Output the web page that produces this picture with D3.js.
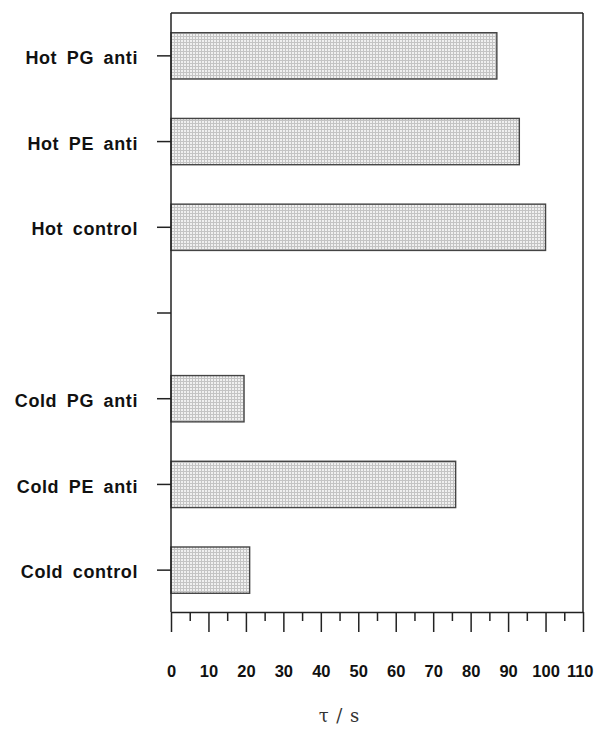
<!DOCTYPE html>
<html>
<head>
<meta charset="utf-8">
<script src="https://cdn.jsdelivr.net/npm/d3@7"></script>
<style>
  html, body { margin: 0; padding: 0; background: #fff; }
  svg { display: block; }
</style>
</head>
<body>
<svg id="chart" width="594" height="729"></svg>
<script>
// ---- data ----
const categories = ["Hot PG anti", "Hot PE anti", "Hot control", "", "Cold PG anti", "Cold PE anti", "Cold control"];
const tauValues  = [87, 93, 100, null, 19.5, 76, 21];
const majorTicks = [0, 10, 20, 30, 40, 50, 60, 70, 80, 90, 100, 110];
const minorTicks = [5, 15, 25, 35, 45, 55, 65, 75, 85, 95, 105];
const axisTitle  = "τ / s";

const rows = categories.map((c, i) => ({ cat: c, val: tauValues[i] }));

// ---- layout ----
const svg = d3.select("#chart");
const mLeft = 171, mRight = 583, mTop = 13, mBottom = 612;

const x = d3.scaleLinear().domain([0, 110]).range([mLeft, mRight]);
const y = d3.scaleBand().domain(categories).range([mTop, mBottom + 1])
  .paddingInner(0.46).paddingOuter(0.23);

// stipple pattern for bars
const defs = svg.append("defs");
const pat = defs.append("pattern").attr("id", "stip")
  .attr("width", 3).attr("height", 3).attr("patternUnits", "userSpaceOnUse");
pat.append("rect").attr("width", 3).attr("height", 3).attr("fill", "#f0f0f0");
pat.append("rect").attr("width", 3).attr("height", 1).attr("fill", "#c4c4c4");
pat.append("rect").attr("width", 1).attr("height", 3).attr("fill", "#c4c4c4");

// bars
svg.append("g").selectAll("rect")
  .data(rows.filter(d => d.val != null))
  .join("rect")
  .attr("x", x(0))
  .attr("y", d => y(d.cat))
  .attr("width", d => x(d.val) - x(0))
  .attr("height", y.bandwidth())
  .attr("fill", "url(#stip)")
  .attr("stroke", "#444")
  .attr("stroke-width", 1.4);

// frame
const frame = svg.append("g").attr("stroke", "#222").attr("stroke-width", 1.5).attr("fill", "none");
frame.append("line").attr("x1", mLeft).attr("x2", mRight).attr("y1", mTop).attr("y2", mTop);
frame.append("line").attr("x1", mRight).attr("x2", mRight).attr("y1", mTop).attr("y2", mBottom);
frame.append("line").attr("x1", mLeft).attr("x2", mLeft).attr("y1", mTop).attr("y2", mBottom);

// left axis (category ticks)
const yAxis = svg.append("g")
  .attr("transform", `translate(${mLeft},0)`)
  .call(d3.axisLeft(y).tickSize(14).tickSizeOuter(0).tickPadding(19));
yAxis.select(".domain").remove();
yAxis.selectAll("line").attr("stroke", "#222").attr("stroke-width", 1.5);
yAxis.selectAll("text")
  .attr("font-family", "'Liberation Sans', Arial, sans-serif")
  .attr("font-weight", "bold")
  .attr("font-size", 18)
  .attr("letter-spacing", "0.6px")
  .attr("word-spacing", "4px")
  .attr("dy", "0.45em")
  .attr("fill", "#111");

// bottom axis: major ticks
const xAxis = svg.append("g")
  .attr("transform", `translate(0,${mBottom})`)
  .call(d3.axisBottom(x).tickValues(majorTicks).tickSize(20).tickSizeOuter(0).tickPadding(33));
xAxis.select(".domain").attr("stroke", "#222").attr("stroke-width", 1.5);
xAxis.selectAll("line").attr("stroke", "#222").attr("stroke-width", 1.5);
xAxis.selectAll("text")
  .attr("font-family", "'Liberation Sans', Arial, sans-serif")
  .attr("font-weight", "bold")
  .attr("font-size", 16.5)
  .attr("fill", "#111");
// keep the last label inside the picture
xAxis.selectAll("text").filter(d => d === 110)
  .attr("text-anchor", "end").attr("x", 593 - x(110));

// minor ticks
const xMinor = svg.append("g")
  .attr("transform", `translate(0,${mBottom})`)
  .call(d3.axisBottom(x).tickValues(minorTicks).tickSize(9).tickFormat(""));
xMinor.select(".domain").remove();
xMinor.selectAll("line").attr("stroke", "#222").attr("stroke-width", 1.5);

// axis title
svg.append("text")
  .attr("x", 339)
  .attr("y", 722)
  .attr("text-anchor", "middle")
  .attr("font-family", "'DejaVu Serif', 'Liberation Serif', serif")
  .attr("font-size", 18)
  .attr("fill", "#333")
  .attr("word-spacing", "2px")
  .text(axisTitle);
</script>
</body>
</html>
